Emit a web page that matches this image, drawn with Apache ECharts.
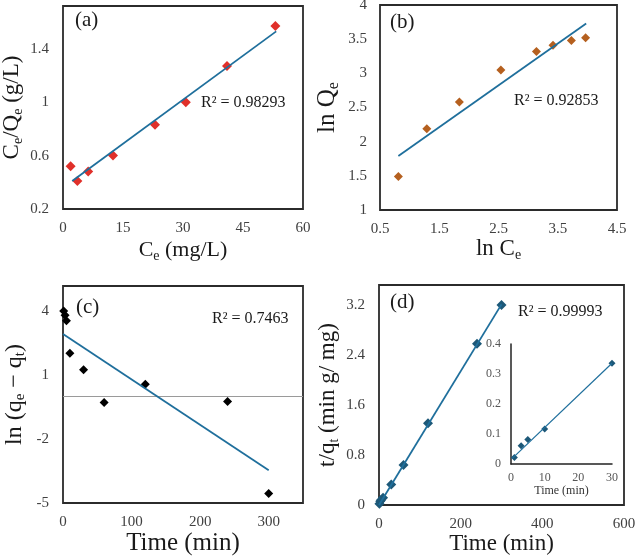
<!DOCTYPE html>
<html><head><meta charset="utf-8">
<script src="https://cdn.jsdelivr.net/npm/echarts@6/dist/echarts.min.js"></script>
<style>html,body{margin:0;padding:0;background:#fff}#c{width:635px;height:558px}</style>
</head><body><div id="c"></div>
<script>
// ---- (a) Langmuir ----
const aCe = [1.9, 3.6, 6.3, 12.5, 23.0, 30.7, 41.0, 53.1];
const aCeQe = [0.52, 0.41, 0.48, 0.60, 0.83, 1.00, 1.27, 1.57];
const aFitX = [2.3, 53.3];
const aFitY = [0.41, 1.53];
const aXTicks = [0, 15, 30, 45, 60];
const aYTicks = [0.2, 0.6, 1, 1.4];
// ---- (b) Freundlich ----
const bLnCe = [0.81, 1.29, 1.84, 2.54, 3.14, 3.42, 3.73, 3.97];
const bLnQe = [1.49, 2.19, 2.58, 3.05, 3.32, 3.41, 3.48, 3.52];
const bFitX = [0.81, 3.98];
const bFitY = [1.79, 3.73];
const bXTicks = [0.5, 1.5, 2.5, 3.5, 4.5];
const bYTicks = [1, 1.5, 2, 2.5, 3, 3.5, 4];
// ---- (c) pseudo-first-order ----
const cTime = [1, 3, 5, 10, 30, 60, 120, 240, 300];
const cLn = [3.98, 3.78, 3.52, 2.0, 1.23, -0.3, 0.56, -0.25, -4.55];
const cFitX = [0, 300];
const cFitY = [2.9, -3.47];
const cZero = 0;
const cXTicks = [0, 100, 200, 300];
const cYTicks = [-5, -2, 1, 4];
// ---- (d) pseudo-second-order ----
const dTime = [1, 3, 5, 10, 30, 60, 120, 240, 300];
const dTq = [0.02, 0.06, 0.08, 0.115, 0.33, 0.64, 1.31, 2.58, 3.2];
const dFitX = [0, 300];
const dFitY = [0.0, 3.21];
const dXTicks = [0, 200, 400, 600];
const dYTicks = [0, 0.8, 1.6, 2.4, 3.2];
// ---- (d) inset ----
const iTime = [1, 3, 5, 10, 30];
const iTq = [0.022, 0.061, 0.082, 0.117, 0.336];
const iFitX = [0.3, 30];
const iFitY = [0.018, 0.336];
const iXTicks = [0, 10, 20, 30];
const iYTicks = [0, 0.1, 0.2, 0.3, 0.4];

const rSq = ['R\u00b2 = 0.98293', 'R\u00b2 = 0.92853', 'R\u00b2 = 0.7463', 'R\u00b2 = 0.99993'];
const panelTags = ['(a)', '(b)', '(c)', '(d)'];

const FONT = 'Liberation Serif';
const zip = (xs, ys) => xs.map((x, i) => [x, ys[i]]);
function pick(ticks) {
  return function (v) {
    for (const t of ticks) if (Math.abs(v - t) < 1e-6) return String(t);
    return '';
  };
}
function rich(size) {
  return {
    t: { fontSize: size, fontFamily: FONT, color: '#1a1a1a' },
    s: { fontSize: Math.round(size * 0.62), fontFamily: FONT, color: '#1a1a1a', padding: [Math.round(size * 0.5), 0, 0, 0] }
  };
}
function ax(grid, min, max, interval, ticks, name, gap, size, margin) {
  return {
    type: 'value', gridIndex: grid, min: min, max: max, interval: interval,
    axisLine: { show: false }, axisTick: { show: false }, splitLine: { show: false },
    axisLabel: { formatter: pick(ticks), fontFamily: FONT, fontSize: 15, color: '#404040', margin: margin, showMinLabel: true, showMaxLabel: true },
    name: name, nameLocation: 'middle', nameGap: gap,
    nameTextStyle: { fontFamily: FONT, fontSize: size, color: '#1a1a1a', rich: rich(size) }
  };
}
const gridBase = { show: true, borderColor: '#2b2b2b', borderWidth: 1.8, backgroundColor: '#fff', outerBoundsMode: 'none', containLabel: false };
const grids = [
  Object.assign({ left: 63, top: 6, width: 240, height: 203 }, gridBase),
  Object.assign({ left: 380, top: 5, width: 237, height: 205 }, gridBase),
  Object.assign({ left: 63, top: 286, width: 240, height: 217 }, gridBase),
  Object.assign({ left: 379, top: 285, width: 245, height: 220 }, gridBase),
  { left: 511, top: 344, width: 101, height: 120, show: false, outerBoundsMode: 'none', containLabel: false }
];
const xAxes = [
  ax(0, 0, 60, 15, aXTicks, '{t|C}{s|e}{t| (mg/L)}', 29, 22, 12),
  ax(1, 0.5, 4.5, 0.5, bXTicks, '{t|ln C}{s|e}', 25, 23, 12),
  ax(2, 0, 350, 50, cXTicks, '{t|Time (min)}', 20, 25, 12),
  ax(3, 0, 600, 200, dXTicks, '{t|Time (min)}', 24, 23, 12),
  {
    type: 'value', gridIndex: 4, min: 0, max: 30, interval: 10,
    axisLine: { show: true, lineStyle: { color: '#222', width: 1.5 } }, axisTick: { show: false }, splitLine: { show: false },
    axisLabel: { formatter: pick(iXTicks), fontFamily: FONT, fontSize: 12, color: '#555', margin: 8 },
    name: 'Time (min)', nameLocation: 'middle', nameGap: 20,
    nameTextStyle: { fontFamily: FONT, fontSize: 12, color: '#333' }
  }
];
const yAxes = [
  ax(0, 0.2, 1.72, 0.2, aYTicks, '{t|C}{s|e}{t|/Q}{s|e}{t| (g/L)}', 38, 23, 14),
  ax(1, 1, 4, 0.5, bYTicks, '{t|ln Q}{s|e}', 38, 25, 13),
  ax(2, -5, 5.15, 1, cYTicks, '{t|ln (q}{s|e}{t| \u2212 q}{s|t}{t|)}', 35, 24, 14),
  ax(3, 0, 3.52, 0.8, dYTicks, '{t|t/q}{s|t}{t| (min g/ mg)}', 38, 23, 14),
  {
    type: 'value', gridIndex: 4, min: 0, max: 0.4, interval: 0.1,
    axisLine: { show: true, lineStyle: { color: '#222', width: 1.5 } }, axisTick: { show: false }, splitLine: { show: false },
    axisLabel: { formatter: pick(iYTicks), fontFamily: FONT, fontSize: 12, color: '#555', margin: 10 }
  }
];
const LINE = '#1f6f9c';
function scatter(i, data, color, size) {
  return { type: 'scatter', xAxisIndex: i, yAxisIndex: i, data: data, symbol: 'diamond', symbolSize: size, itemStyle: { color: color, opacity: 1 }, z: 3, clip: false, silent: true };
}
function fit(i, data, width) {
  return { type: 'line', xAxisIndex: i, yAxisIndex: i, data: data, symbol: 'none', showSymbol: false, lineStyle: { color: LINE, width: width }, z: 4, silent: true };
}
const series = [
  scatter(0, zip(aCe, aCeQe), '#e0302a', 10), fit(0, zip(aFitX, aFitY), 1.8),
  scatter(1, zip(bLnCe, bLnQe), '#b5601f', 9), fit(1, zip(bFitX, bFitY), 1.8),
  Object.assign(scatter(2, zip(cTime, cLn), '#000', 9), {
    markLine: { silent: true, symbol: ['none', 'none'], label: { show: false }, lineStyle: { color: '#9a9a9a', width: 1, type: 'solid' }, data: [{ yAxis: cZero }], z: 1 }
  }),
  fit(2, zip(cFitX, cFitY), 1.8),
  scatter(3, zip(dTime, dTq), '#1d5878', 10), fit(3, zip(dFitX, dFitY), 1.8),
  scatter(4, zip(iTime, iTq), '#1d5878', 7), fit(4, zip(iFitX, iFitY), 1.2)
];
const rPos = [[201, 104], [514, 102], [212, 320], [518, 313]];
const tPos = [[75, 22], [390, 24], [76, 309], [390, 304]];
const graphic = [];
for (let k = 0; k < 4; k++) {
  graphic.push({ type: 'text', left: rPos[k][0], top: rPos[k][1] - 9, z: 10, style: { text: rSq[k], font: '16px "Liberation Serif"', fill: '#1a1a1a' } });
  graphic.push({ type: 'text', left: tPos[k][0], top: tPos[k][1] - 12, z: 10, style: { text: panelTags[k], font: '21px "Liberation Serif"', fill: '#1a1a1a' } });
}
const chart = echarts.init(document.getElementById('c'));
chart.setOption({
  animation: false,
  backgroundColor: '#fff',
  grid: grids, xAxis: xAxes, yAxis: yAxes, series: series, graphic: graphic
});
</script>
</body></html>
